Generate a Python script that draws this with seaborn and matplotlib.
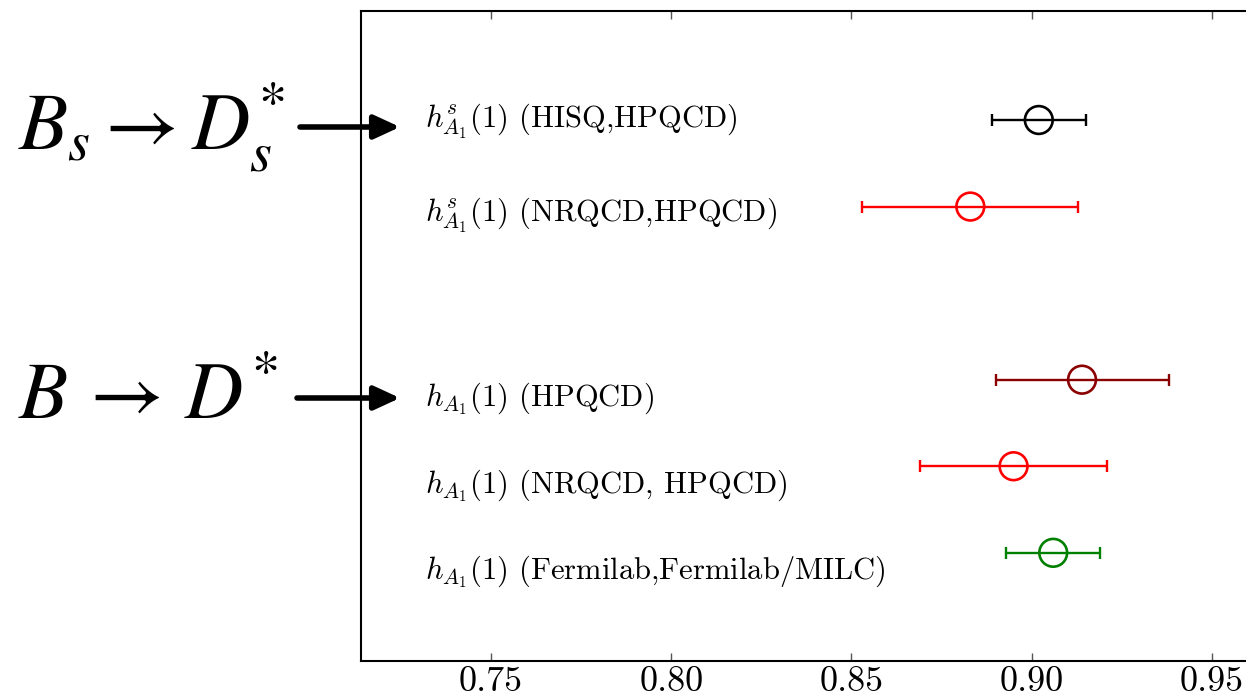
import matplotlib
matplotlib.use("Agg")
import matplotlib.pyplot as plt
import seaborn as sns
import pandas as pd

# Form factor results at zero recoil
labels = [
    r"$h^{s}_{A_1}(1)$ (HISQ,HPQCD)",
    r"$h^{s}_{A_1}(1)$ (NRQCD,HPQCD)",
    r"$h_{A_1}(1)$ (HPQCD)",
    r"$h_{A_1}(1)$ (NRQCD, HPQCD)",
    r"$h_{A_1}(1)$ (Fermilab,Fermilab/MILC)",
]
values = [0.902, 0.883, 0.914, 0.895, 0.906]
errors = [0.013, 0.030, 0.024, 0.026, 0.013]
rows = [6, 5, 3, 2, 1]
label_rows = [5.98, 4.9, 2.78, 1.78, 0.78]
colors = ["black", "red", "darkred", "red", "green"]
xticks = [0.75, 0.80, 0.85, 0.90, 0.95]

sns.set_theme(style="white")
plt.rcParams["font.family"] = ["cmr10", "DejaVu Serif"]
plt.rcParams["mathtext.fontset"] = "cm"
plt.rcParams["axes.unicode_minus"] = False
plt.rcParams["text.color"] = "black"
plt.rcParams["xtick.color"] = "black"

fig = plt.figure(figsize=(12.46, 7.00), dpi=100)
ax = fig.add_axes([361 / 1246, 39 / 700, 894 / 1246, 650.5 / 700])

df = pd.DataFrame({"label": labels, "value": values, "err": errors,
                   "row": rows, "color": colors})

for _, r in df.iterrows():
    ax.errorbar(r["value"], r["row"], xerr=r["err"], fmt="none",
                ecolor=r["color"], elinewidth=1.7, capsize=4.2,
                capthick=1.7, zorder=2)

n_before = len(ax.collections)
sns.scatterplot(data=df, x="value", y="row", hue="label",
                palette=dict(zip(labels, colors)), legend=False,
                marker="o", s=400, linewidth=1.9, ax=ax, zorder=3)
# hollow circles coloured by their edge
for coll in ax.collections[n_before:]:
    coll.set_facecolor("none")
    coll.set_edgecolor(colors)

for lab, yrow in zip(labels, label_rows):
    ax.text(0.7317, yrow, lab, fontsize=22, va="center", ha="left",
            color="black", math_fontfamily="cm")

ax.set_xlim(0.7139, 0.962)
ax.set_ylim(-0.25, 7.265)
ax.set_xticks(xticks)
ax.set_xticklabels([f"{t:.2f}" for t in xticks], fontsize=26, color="black")
ax.set_yticks([])
ax.set_xlabel("")
ax.set_ylabel("")
ax.tick_params(axis="x", direction="in", length=6, width=1, color="#555555",
               top=True, bottom=True, pad=4)
for side in ["left", "bottom", "top", "right"]:
    ax.spines[side].set_visible(True)
    ax.spines[side].set_color("black")
    ax.spines[side].set_linewidth(1.5)

# Decay channel annotations on the left
fig.text(18 / 1246, 1 - 150 / 700, r"$B_s\rightarrow D_s^{*}$", fontsize=58,
         ha="left", va="baseline", math_fontfamily="stix", color="black")
fig.text(18 / 1246, 1 - 420 / 700, r"$B\,\rightarrow\,D^{*}$", fontsize=58,
         ha="left", va="baseline", math_fontfamily="stix", color="black")

for y0, x0 in [(127, 300), (398, 297)]:
    ax.annotate("", xy=(400, 700 - y0), xycoords="figure pixels",
                xytext=(x0, 700 - y0), textcoords="figure pixels",
                arrowprops=dict(arrowstyle="-|>,head_length=1.3,head_width=0.6",
                                color="black", lw=4, shrinkA=0, shrinkB=0),
                annotation_clip=False)

fig.savefig("out.png", dpi=100)
